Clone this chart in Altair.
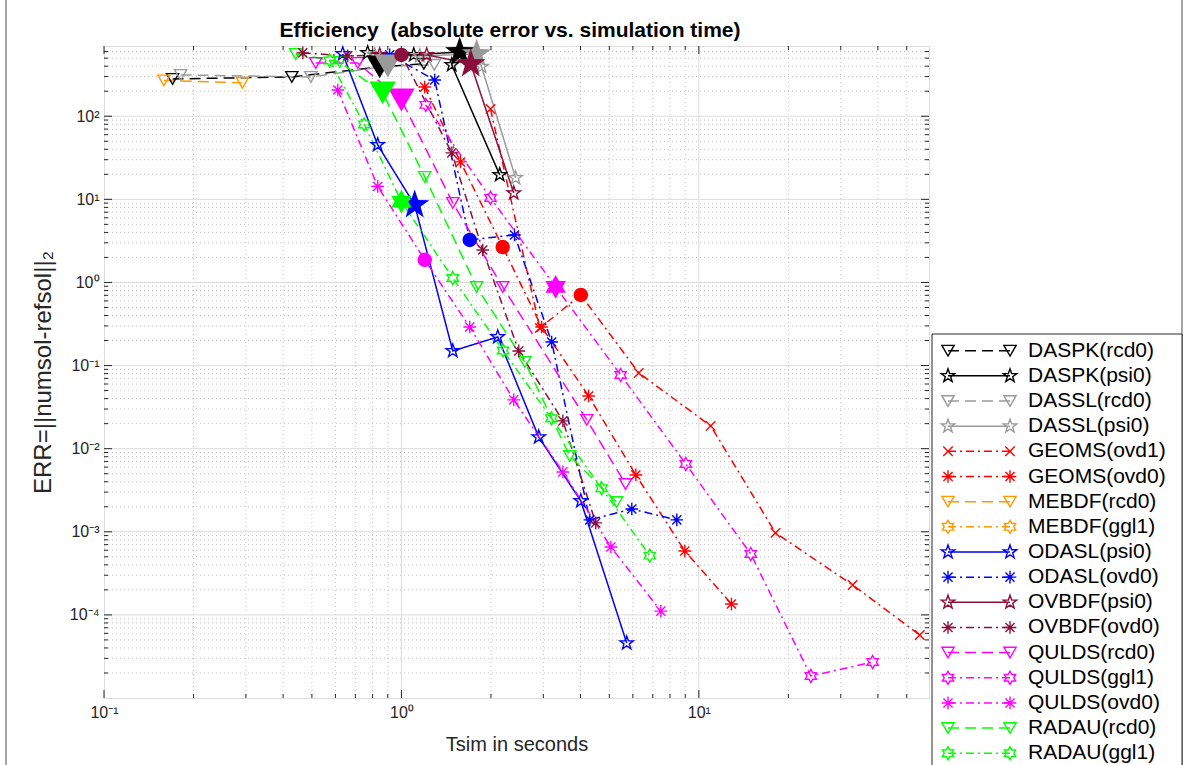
import math
import pandas as pd
import altair as alt

# ---------------- data ----------------
NAMES = ["DASPK(rcd0)", "DASPK(psi0)", "DASSL(rcd0)", "DASSL(psi0)",
         "GEOMS(ovd1)", "GEOMS(ovd0)", "MEBDF(rcd0)", "MEBDF(ggl1)",
         "ODASL(psi0)", "ODASL(ovd0)", "OVBDF(psi0)", "OVBDF(ovd0)",
         "QULDS(rcd0)", "QULDS(ggl1)", "QULDS(ovd0)", "RADAU(rcd0)", "RADAU(ggl1)"]

DASPK_RCD0_T = [0.170, 0.428, 0.845, 1.19]
DASPK_RCD0_E = [281, 297, 393, 427]
DASPK_PSI0_T = [0.770, 1.10, 1.57, 1.476, 2.14]
DASPK_PSI0_E = [578, 547, 594, 415, 19.7]
DASSL_RCD0_T = [0.181, 0.496, 0.90, 1.29]
DASSL_RCD0_E = [314, 297, 403, 415]
DASSL_PSI0_T = [0.813, 1.153, 1.79, 1.86, 2.42]
DASSL_PSI0_E = [547, 532, 562, 395, 18.1]
GEOMS_OVD1_T = [1.993, 2.92, 4.01, 6.28, 10.96, 18.1, 32.9, 55.3]
GEOMS_OVD1_E = [122, 0.283, 0.707, 0.0815, 0.0188, 9.7e-4, 2.29e-4, 5.73e-5]
GEOMS_OVD0_T = [1.197, 1.58, 2.19, 2.96, 4.26, 6.14, 8.97, 12.87]
GEOMS_OVD0_E = [225, 28.2, 2.67, 0.291, 0.0431, 4.83e-3, 5.87e-4, 1.35e-4]
MEBDF_RCD0_T = [0.159, 0.292]
MEBDF_RCD0_E = [270, 252]
MEBDF_GGL1_T = []
MEBDF_GGL1_E = []
ODASL_PSI0_T = [0.635, 0.832, 1.108, 1.488, 2.108, 2.895, 4.01, 5.72]
ODASL_PSI0_E = [562, 45.2, 8.56, 0.150, 0.221, 0.0138, 2.35e-3, 4.59e-5]
ODASL_OVD0_T = [0.913, 1.294, 1.697, 2.40, 3.20, 4.30, 5.95, 8.43]
ODASL_OVD0_E = [547, 273, 3.25, 3.73, 0.192, 1.39e-3, 1.88e-3, 1.39e-3]
OVBDF_PSI0_T = [0.845, 1.216, 1.71, 2.386]
OVBDF_PSI0_E = [547, 547, 426, 11.9]
OVBDF_OVD0_T = [0.466, 0.66, 1.0, 1.477, 1.877, 2.48, 3.49, 4.50]
OVBDF_OVD0_E = [578, 532, 547, 36.2, 2.46, 0.150, 0.0216, 1.28e-3]
QULDS_RCD0_T = [0.515, 0.713, 1.0, 1.488, 2.19, 4.20, 5.67]
QULDS_RCD0_E = [438, 438, 157, 9.05, 0.883, 0.0222, 3.76e-3]
QULDS_GGL1_T = [1.207, 1.993, 3.30, 5.46, 9.04, 14.95, 23.8, 38.4]
QULDS_GGL1_E = [137, 10.4, 0.883, 0.077, 6.54e-3, 5.4e-4, 1.84e-5, 2.71e-5]
QULDS_OVD0_T = [0.611, 0.832, 1.198, 1.697, 2.386, 3.49, 5.06, 7.45]
QULDS_OVD0_E = [207, 14.3, 1.87, 0.291, 0.0386, 5.25e-3, 6.56e-4, 1.11e-4]
RADAU_RCD0_T = [0.441, 0.620, 0.865, 1.198, 1.79, 2.60, 3.68, 5.29]
RADAU_RCD0_E = [562, 450, 191, 18.6, 0.883, 0.1105, 8.17e-3, 2.28e-3]
RADAU_GGL1_T = [0.574, 0.750, 1.0, 1.488, 2.196, 3.195, 4.71, 6.84]
RADAU_GGL1_E = [469, 79.7, 9.38, 1.13, 0.152, 0.0232, 3.34e-3, 5.16e-4]

SERIES_T = [DASPK_RCD0_T, DASPK_PSI0_T, DASSL_RCD0_T, DASSL_PSI0_T, GEOMS_OVD1_T,
            GEOMS_OVD0_T, MEBDF_RCD0_T, MEBDF_GGL1_T, ODASL_PSI0_T, ODASL_OVD0_T,
            OVBDF_PSI0_T, OVBDF_OVD0_T, QULDS_RCD0_T, QULDS_GGL1_T, QULDS_OVD0_T,
            RADAU_RCD0_T, RADAU_GGL1_T]
SERIES_E = [DASPK_RCD0_E, DASPK_PSI0_E, DASSL_RCD0_E, DASSL_PSI0_E, GEOMS_OVD1_E,
            GEOMS_OVD0_E, MEBDF_RCD0_E, MEBDF_GGL1_E, ODASL_PSI0_E, ODASL_OVD0_E,
            OVBDF_PSI0_E, OVBDF_OVD0_E, QULDS_RCD0_E, QULDS_GGL1_E, QULDS_OVD0_E,
            RADAU_RCD0_E, RADAU_GGL1_E]
# index of the highlighted (large, filled) point of each series, -1 = none
BIG_INDEX = [2, 2, 2, 2, 2, 2, -1, -1, 2, 2, 2, 2, 2, 2, 2, 2, 2]

TITLE = "Efficiency\u00a0 (absolute error vs. simulation time)"
X_TICKS = [0.1, 1, 10]
X_TICK_LABELS = ["10\u207b\u00b9", "10\u2070", "10\u00b9"]
Y_TICKS = [1e-4, 1e-3, 1e-2, 1e-1, 1, 10, 100]
Y_TICK_LABELS = ["10\u207b\u2074", "10\u207b\u00b3", "10\u207b\u00b2", "10\u207b\u00b9",
                 "10\u2070", "10\u00b9", "10\u00b2"]

# ---------------- styles ----------------
BLACK, GRAY, RED, ORANGE = "#000000", "#9a9a9a", "#ff0000", "#ff9900"
BLUE, MAROON, MAGENTA, GREEN = "#0000ff", "#8b0f3a", "#ff00ff", "#00ff00"
COLORS = [BLACK, BLACK, GRAY, GRAY, RED, RED, ORANGE, ORANGE, BLUE, BLUE,
          MAROON, MAROON, MAGENTA, MAGENTA, MAGENTA, GREEN, GREEN]

DASHED, SOLID, DASHDOT = [11, 6], [1, 0], [8, 4, 2, 4]
DASHES = [DASHED, SOLID, DASHED, SOLID, DASHDOT, DASHDOT, DASHED, DASHDOT,
          SOLID, DASHDOT, SOLID, DASHDOT, DASHED, DASHDOT, DASHDOT, DASHED, DASHDOT]


def star_path(n, r_in):
    pts = []
    for k in range(2 * n):
        a = -math.pi / 2 + k * math.pi / n
        r = 1.0 if k % 2 == 0 else r_in
        pts.append(f"{r * math.cos(a):.3f},{r * math.sin(a):.3f}")
    return "M" + "L".join(pts) + "Z"


PENTA = star_path(5, 0.40)
HEXA = star_path(6, 0.577)
ASTER = "M0,-1L0,1M-1,0L1,0M-0.72,-0.72L0.72,0.72M-0.72,0.72L0.72,-0.72"
XMARK = "M-0.8,-0.8L0.8,0.8M-0.8,0.8L0.8,-0.8"
TRI = "triangle-down"

KIND = ["rcd", "psi", "rcd", "psi", "ovd1", "ovd", "rcd", "ggl", "psi", "ovd",
        "psi", "ovd", "rcd", "ggl", "ovd", "rcd", "ggl"]
KINDS = ["rcd", "psi", "ovd1", "ovd", "ggl"]
SMALL_SHAPE = {"rcd": TRI, "psi": PENTA, "ovd1": XMARK, "ovd": ASTER, "ggl": HEXA}
SMALL_SIZE = {"rcd": 150, "psi": 200, "ovd1": 140, "ovd": 160, "ggl": 170}
BIG_SHAPE = {"rcd": TRI, "psi": PENTA, "ovd1": "circle", "ovd": "circle", "ggl": HEXA}
BIG_SIZE = {"rcd": 700, "psi": 950, "ovd1": 210, "ovd": 210, "ggl": 560}

FONT = "Liberation Sans"
AXC = "#262626"
W, H = 825, 652
X_DOMAIN = [0.1, 59.4]
Y_DOMAIN = [1e-5, 700]

rows, big_rows = [], []
for s, name in enumerate(NAMES):
    for i, (t, e) in enumerate(zip(SERIES_T[s], SERIES_E[s])):
        rows.append({"series": name, "kind": KIND[s], "i": i, "t": t, "e": e})
        if i == BIG_INDEX[s]:
            big_rows.append({"series": name, "kind": KIND[s], "t": t, "e": e})
df = pd.DataFrame(rows)
dfb = pd.DataFrame(big_rows)

XS = alt.Scale(type="log", domain=X_DOMAIN, nice=False)
YS = alt.Scale(type="log", domain=Y_DOMAIN, nice=False)

color = alt.Color("series:N", scale=alt.Scale(domain=NAMES, range=COLORS), legend=None)
dash = alt.StrokeDash("series:N", scale=alt.Scale(domain=NAMES, range=DASHES), legend=None)

xlab = "[" + ",".join(f"'{s}'" for s in X_TICK_LABELS) + "][round(log(datum.value)/LN10)+1]"
ylab = "[" + ",".join(f"'{s}'" for s in Y_TICK_LABELS) + "][round(log(datum.value)/LN10)+4]"

XAX = alt.Axis(values=X_TICKS, labelExpr=xlab, ticks=False, domain=False, grid=False,
               title="Tsim in seconds", labelFont=FONT, labelFontSize=16, labelColor=AXC,
               labelPadding=6, titleFont=FONT, titleFontSize=20, titleFontWeight="normal",
               titleColor=AXC, titlePadding=14, labelFlush=False)
YAX = alt.Axis(values=Y_TICKS, labelExpr=ylab, ticks=False, domain=False, grid=False,
               title="ERR=||numsol-refsol||\u2082", labelFont=FONT, labelFontSize=16,
               labelColor=AXC, labelPadding=5, titleFont=FONT, titleFontSize=24,
               titleFontWeight="normal", titleColor=AXC, titlePadding=14, labelFlush=False)


def X(field):
    return alt.X(field, scale=XS, axis=XAX)


def Y(field):
    return alt.Y(field, scale=YS, axis=YAX)


# grid / tick positions
X_MINOR = [m * 10.0 ** k for k in (-1, 0, 1) for m in range(2, 10) if m * 10.0 ** k < X_DOMAIN[1]]
Y_MINOR = [m * 10.0 ** k for k in range(-5, 3) for m in range(2, 10) if m * 10.0 ** k < Y_DOMAIN[1]]
X_MAJOR = [1, 10]
Y_MAJOR = Y_TICKS


def vgrid(vals, dashpat, col):
    return alt.Chart(pd.DataFrame({"v": vals})).mark_rule(
        strokeDash=dashpat, color=col, strokeWidth=1).encode(
        x=X("v:Q"), y=alt.value(0), y2=alt.value(H))


def hgrid(vals, dashpat, col):
    return alt.Chart(pd.DataFrame({"v": vals})).mark_rule(
        strokeDash=dashpat, color=col, strokeWidth=1).encode(
        y=Y("v:Q"), x=alt.value(0), x2=alt.value(W))


def xticks(vals, length):
    d = pd.DataFrame({"v": vals})
    a = alt.Chart(d).mark_rule(color=AXC, strokeWidth=1).encode(
        x=X("v:Q"), y=alt.value(H), y2=alt.value(H - length))
    b = alt.Chart(d).mark_rule(color=AXC, strokeWidth=1).encode(
        x=X("v:Q"), y=alt.value(0), y2=alt.value(length))
    return [a, b]


def yticks(vals, length):
    d = pd.DataFrame({"v": vals})
    a = alt.Chart(d).mark_rule(color=AXC, strokeWidth=1).encode(
        y=Y("v:Q"), x=alt.value(0), x2=alt.value(length))
    b = alt.Chart(d).mark_rule(color=AXC, strokeWidth=1).encode(
        y=Y("v:Q"), x=alt.value(W), x2=alt.value(W - length))
    return [a, b]


grid_layers = [
    vgrid(X_MINOR, [1, 3], "#c4c4c4"), hgrid(Y_MINOR, [1, 3], "#c4c4c4"),
    vgrid(X_MAJOR, [1, 0], "#dcdcdc"), hgrid(Y_MAJOR, [1, 0], "#dcdcdc"),
]
tick_layers = xticks(X_MINOR, 4) + xticks(X_TICKS, 8) + yticks(Y_MINOR, 4) + yticks(Y_MAJOR, 8)

lines = alt.Chart(df).mark_line(strokeWidth=1.5).encode(
    x=X("t:Q"), y=Y("e:Q"), color=color, strokeDash=dash, detail="series:N", order="i:Q")

point_layers = []
for k in KINDS:
    point_layers.append(
        alt.Chart(df).transform_filter(alt.datum.kind == k).mark_point(
            filled=False, strokeWidth=1.4, opacity=1, shape=SMALL_SHAPE[k], size=SMALL_SIZE[k]
        ).encode(x=X("t:Q"), y=Y("e:Q"), color=color))
big_layers = []
for k in KINDS:
    big_layers.append(
        alt.Chart(dfb).transform_filter(alt.datum.kind == k).mark_point(
            filled=True, opacity=1, shape=BIG_SHAPE[k], size=BIG_SIZE[k]
        ).encode(x=X("t:Q"), y=Y("e:Q"), color=color))

# ---------------- legend (beside the plot; rows placed through the plot's y scale) ----
LEG = pd.DataFrame({"series": NAMES, "kind": KIND, "idx": list(range(len(NAMES)))})
LEG_TOP, LEG_STEP = 304.7, 25.16          # pixel row layout of the legend
LX1, LX2, LT = 844, 906, 924
ly0, ly1 = math.log10(Y_DOMAIN[1]), math.log10(Y_DOMAIN[0])
ly_expr = f"pow(10, {ly0} - ({LEG_TOP} + datum.idx * {LEG_STEP}) / {H} * {ly0 - ly1})"

legbase = alt.Chart(LEG).transform_calculate(ly=ly_expr)
LY = Y("ly:Q")

frame = alt.Chart(pd.DataFrame({"a": [0]})).mark_rect(
    fill=None, stroke="#4d4d4d", strokeWidth=1).encode(
    x=alt.value(-98), x2=alt.value(1078), y=alt.value(-60), y2=alt.value(780))
box = alt.Chart(pd.DataFrame({"a": [0]})).mark_rect(
    fill="white", stroke=AXC, strokeWidth=1).encode(
    x=alt.value(828), x2=alt.value(1078), y=alt.value(288), y2=alt.value(780))
leg_rule = legbase.mark_rule(strokeWidth=1.5).encode(
    x=alt.value(LX1), x2=alt.value(LX2), y=LY, color=color, strokeDash=dash)
leg_pts = []
for k in KINDS:
    for lx in (LX1, LX2):
        leg_pts.append(
            legbase.transform_filter(alt.datum.kind == k).mark_point(
                filled=False, strokeWidth=1.4, opacity=1, shape=SMALL_SHAPE[k],
                size=SMALL_SIZE[k]).encode(x=alt.value(lx), y=LY, color=color))
leg_txt = legbase.mark_text(align="left", baseline="middle", font=FONT,
                            fontSize=21, color="#000000").encode(
    x=alt.value(LT), y=LY, text="series:N")

title = alt.Chart(pd.DataFrame({"title": [TITLE]})).mark_text(
    align="center", baseline="middle", font=FONT, fontSize=21, fontWeight="bold",
    color="#000000").encode(x=alt.value(406), y=alt.value(-15), text="title:N")

chart = alt.layer(*grid_layers, *tick_layers, lines, *point_layers, *big_layers,
                  frame, box, leg_rule, *leg_pts, leg_txt, title).properties(
    width=W, height=H,
    autosize=alt.AutoSizeParams(type="none"),
    padding={"left": 104, "top": 46, "right": 259, "bottom": 67},
).configure_view(stroke=AXC, strokeWidth=1).configure(background="white")

chart.save("out.html", embed_options={"renderer": "svg", "actions": False})
